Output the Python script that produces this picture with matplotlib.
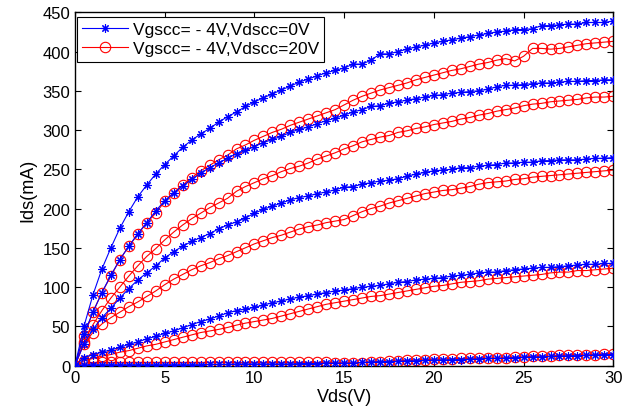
import numpy as np
import matplotlib
matplotlib.use("Agg")
import matplotlib.pyplot as plt

# ---------------------------------------------
# Data (step 0.5 V)
# ---------------------------------------------
vds = np.arange(0, 30.01, 0.5)

# Vdscc = 0V (blue, asterisk)
b1 = [0, 50, 90, 123, 150, 175, 196, 215, 230, 244, 256, 267, 278, 287, 295, 302, 310, 317, 323, 330,
      336, 341, 346, 351, 356, 361, 365, 369, 373, 376, 379, 384, 384, 389, 397, 397, 400, 403, 406, 408,
      411, 413, 415, 417, 419, 421, 423, 425, 426, 428, 428, 429, 433, 433, 434, 435, 435, 437, 437, 437, 439]
b2 = [0, 40, 68, 93, 115, 135, 152, 168, 182, 197, 210, 220, 229, 237, 245, 252, 258, 264, 270, 274,
      279, 284, 288, 292, 297, 301, 304, 308, 312, 315, 319, 323, 326, 330, 331, 334, 336, 338, 340, 342,
      344, 345, 347, 348, 349, 350, 352, 355, 357, 357, 358, 359, 360, 360, 361, 362, 362, 363, 363, 364, 364]
b3 = [0, 28, 46, 61, 73, 86, 98, 109, 118, 127, 137, 145, 152, 158, 163, 168, 174, 179, 183, 188,
      194, 199, 203, 207, 211, 214, 216, 219, 221, 224, 227, 228, 231, 233, 235, 236, 238, 241, 244, 246,
      248, 249, 250, 252, 252, 254, 255, 256, 258, 258, 259, 259, 261, 261, 262, 262, 262, 263, 264, 264, 265]
b4 = [0, 10, 14, 17, 20, 23, 27, 30, 34, 37, 41, 44, 48, 52, 56, 59, 63, 67, 70, 72,
      74, 77, 80, 82, 85, 87, 89, 91, 93, 95, 96, 98, 99.5, 101, 102, 104, 106, 107, 109, 110,
      111, 112, 114, 115, 116, 118, 119, 119, 121, 122, 123, 124, 125, 125, 126, 127, 128, 129, 129, 130, 130]
b5 = [0, 1, 1, 1, 1, 1, 1, 1, 1, 1, 1, 1, 1, 1, 1, 1.5, 1.5, 1.5, 2, 2,
      2, 2, 2, 2, 2, 2.5, 2.5, 2.5, 3, 3, 3, 3, 4, 4.5, 5, 5, 5.5, 6, 6, 6.5,
      7, 7, 7.5, 7.5, 8, 8.5, 9, 9, 9.5, 10, 10.5, 11, 11, 11.5, 12, 12.5, 12.5, 13, 13.5, 14, 14]

# Vdscc = 20V (red, circle)
r1 = [0, 38, 68, 93, 114, 135, 152, 167, 182, 194, 209, 220, 230, 239, 248, 255, 262, 268, 276, 281,
      287, 292, 297, 301, 306, 310, 314, 318, 322, 326, 332, 338, 343, 347, 351, 354, 357, 360, 364, 367,
      370, 373, 376, 378, 381, 384, 386, 389, 391, 388, 394, 404, 404, 403, 404, 406, 408, 410, 411, 412, 413]
r2 = [0, 30, 52, 70, 86, 100, 114, 127, 139, 149, 160, 170, 179, 187, 194, 201, 207, 213, 222, 228,
      233, 238, 242, 247, 251, 254, 258, 263, 267, 271, 276, 280, 285, 288, 291, 293, 297, 299, 302, 304,
      307, 309, 311, 314, 316, 319, 321, 324, 326, 328, 331, 333, 334, 336, 337, 338, 339, 341, 342, 342, 343]
r3 = [0, 28, 42, 53, 61, 68, 75, 81, 88, 95, 103, 110, 116, 122, 127, 131, 136, 140, 145, 150,
      155, 159, 163, 166, 170, 174, 177, 179, 182, 184, 186, 191, 196, 200, 203, 207, 210, 213, 216, 219,
      221, 223, 224, 226, 228, 231, 233, 234, 235, 237, 238, 240, 241, 242, 243, 244, 245, 246, 247, 248, 249]
r4 = [0, 6, 9, 12, 14, 17, 19, 22, 25, 27, 30, 33, 36, 39, 42, 44, 46, 48.5, 51.5, 54,
      56, 58, 60, 63, 66, 69, 72, 75, 78, 80, 82, 84, 86, 88, 89, 91, 93, 95, 97, 99,
      101, 102, 104, 106, 107, 108, 110, 111, 112, 113, 114, 115, 116, 118, 119, 119, 121, 121, 122, 123, 124]
r5 = [0, 3, 4, 4, 4, 4, 4, 4, 4, 4, 4, 4, 4, 4, 4, 4, 4, 4, 4, 4,
      4, 4, 4, 4, 4, 4, 4, 4, 4, 3.5, 3.5, 3.5, 3.5, 5, 5, 5.5, 6, 6.5, 7, 7.5,
      8, 8, 8.5, 9, 9, 9.5, 9.5, 9.5, 10, 10.5, 11, 12, 12, 12, 13, 13.5, 13.5, 13.5, 14, 15, 15]

blue_curves = [b1, b2, b3, b4, b5]
red_curves = [r1, r2, r3, r4, r5]
labels = ["Vgscc= - 4V,Vdscc=0V", "Vgscc= - 4V,Vdscc=20V"]

# ---------------------------------------------
# Plot
# ---------------------------------------------
plt.rcParams["font.family"] = ["Liberation Sans", "DejaVu Sans"]

fig = plt.figure(figsize=(6.34, 4.14), dpi=100)
ax = fig.add_axes([0.1183, 0.1147, 0.8491, 0.8532])

asterisk = (8, 2, 0)
for i, ys in enumerate(blue_curves):
    ax.plot(vds, ys, color="blue", lw=0.8, marker=asterisk, markersize=6,
            markeredgewidth=0.8, label=labels[0] if i == 0 else None, zorder=3)
for i, ys in enumerate(red_curves):
    ax.plot(vds, ys, color="red", lw=0.8, marker="o", markersize=7.5,
            markerfacecolor="none", markeredgewidth=0.8,
            label=labels[1] if i == 0 else None, zorder=2)

ax.set_xlim(0, 30)
ax.set_ylim(0, 450)
ax.set_xticks(np.arange(0, 31, 5))
ax.set_yticks(np.arange(0, 451, 50))
ax.tick_params(direction="in", top=True, right=True, labelsize=12, length=4, width=0.8)
for s in ax.spines.values():
    s.set_linewidth(1.0)

ax.set_xlabel("Vds(V)", fontsize=13, labelpad=2)
ax.set_ylabel("Ids(mA)", fontsize=13, labelpad=4)

leg = ax.legend(loc="upper left", bbox_to_anchor=(0.004, 0.988), borderaxespad=0,
                fontsize=12.5, fancybox=False, edgecolor="black", framealpha=1,
                handlelength=2.6, handletextpad=0.3, borderpad=0.3, labelspacing=0.25)
leg.get_frame().set_linewidth(0.8)

fig.savefig("out.png", dpi=100)
